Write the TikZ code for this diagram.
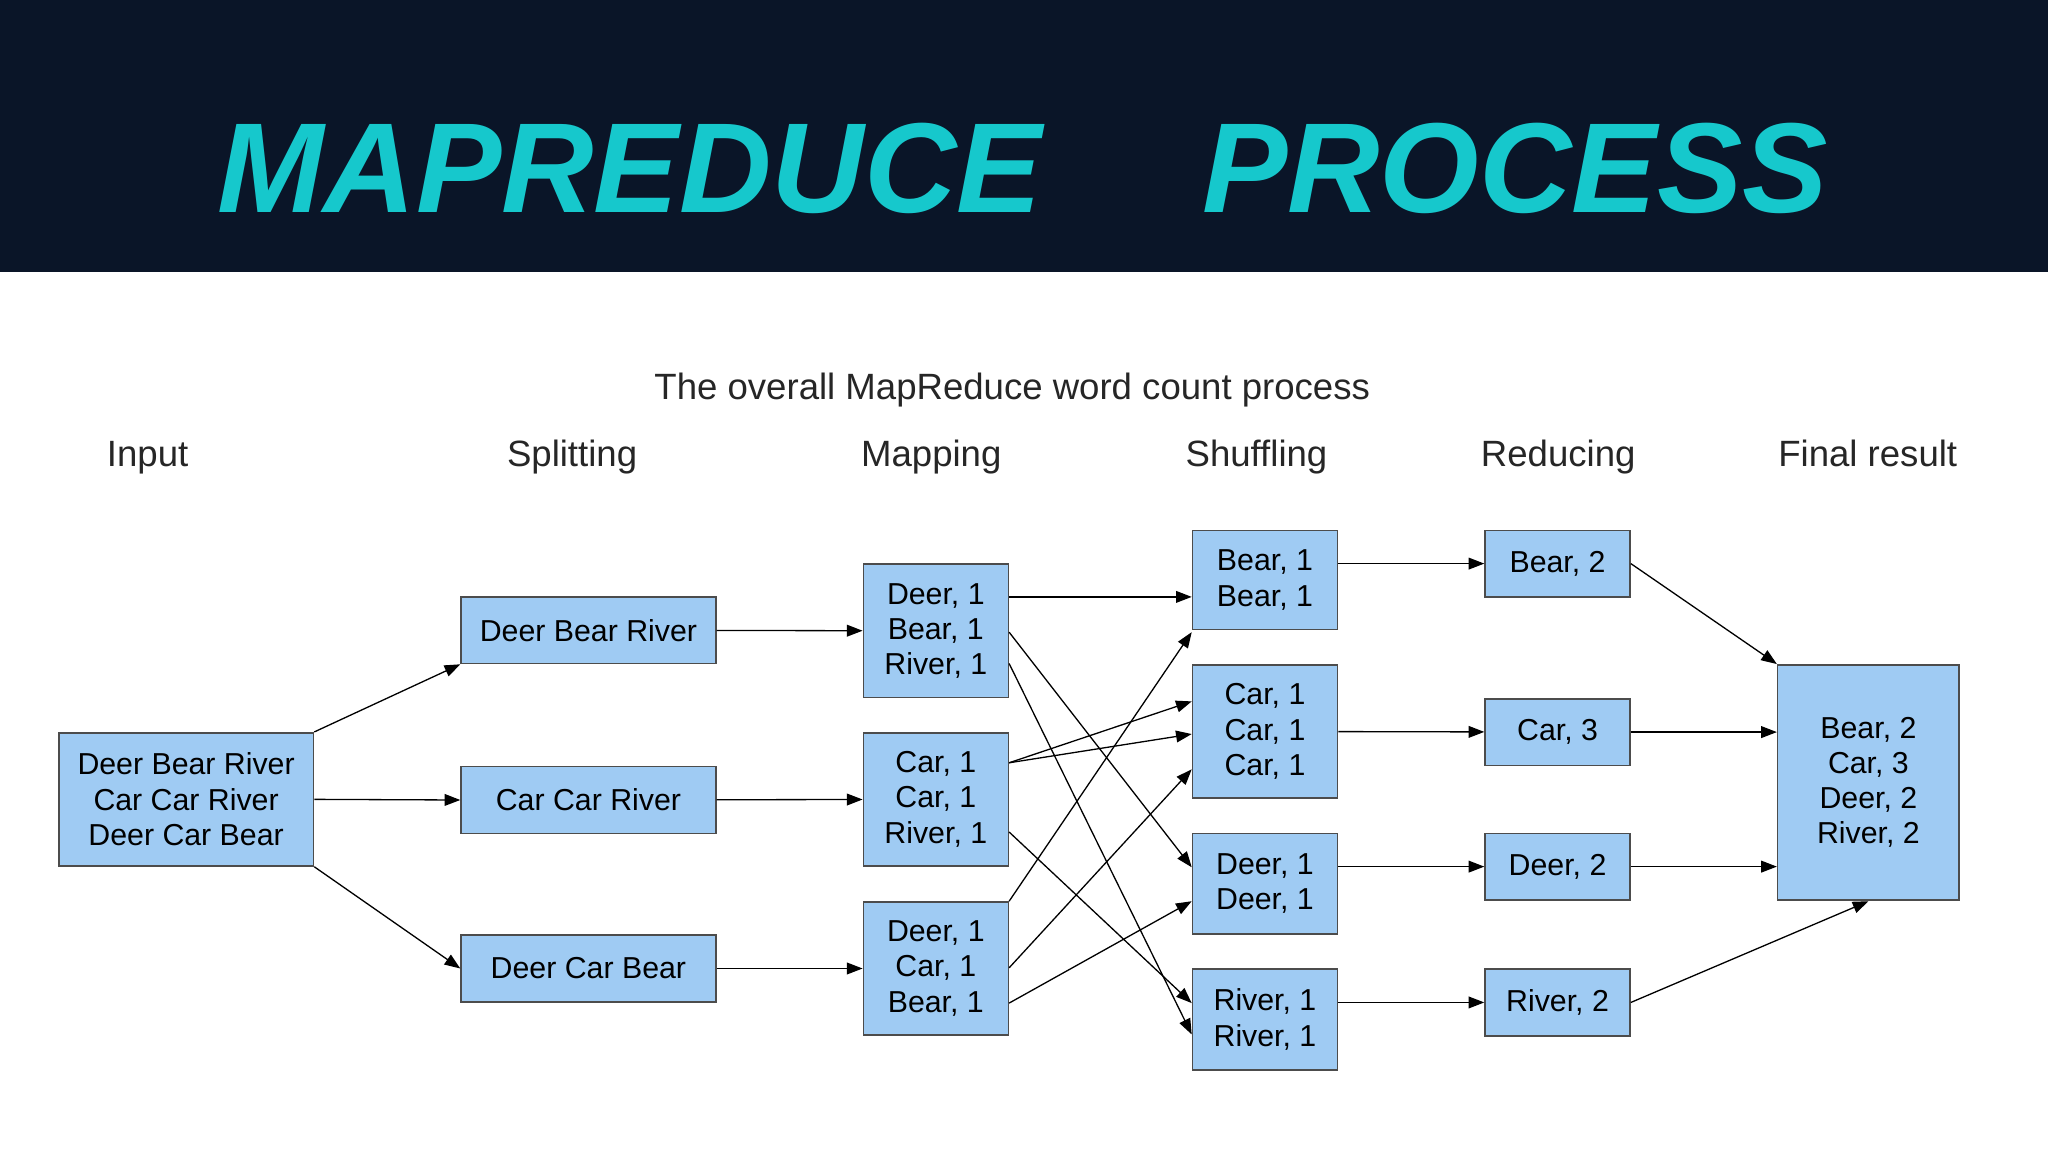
\documentclass[tikz,border=0pt]{standalone}
\usepackage{fontspec}
\setmainfont{Liberation Sans}
\usetikzlibrary{arrows.meta}
\definecolor{navy}{HTML}{0A1528}
\definecolor{ttl}{HTML}{16C8CC}
\definecolor{box}{HTML}{9FCBF3}
\begin{document}
\begin{tikzpicture}[x=0.5pt,y=-0.5pt,
  bx/.style={draw=black!70,fill=box,line width=0.6pt,align=center,inner sep=0pt,
    font=\fontsize{11.6}{13.5}\selectfont},
  hd/.style={font=\fontsize{14}{16}\selectfont,text=black!85,anchor=base},
  tt/.style={text=ttl,font=\fontsize{49}{52}\selectfont\bfseries\itshape,anchor=base},
  ar/.style={-{Triangle[length=6pt,width=4.5pt]},line width=0.5pt}]
\useasboundingbox (0,0) rectangle (1568,882);
\fill[white] (0,0) rectangle (1568,882);
\fill[navy] (0,0) rectangle (1568,208);
\node[tt] (t1) at (482,163) {MAPREDUCE};
\node[tt] (t2) at (1160,163) {PROCESS};
\node[hd] (sub) at (775,306) {The overall MapReduce word count process};
\node[hd] (h1) at (113,357) {Input};
\node[hd] (h2) at (438,357) {Splitting};
\node[hd] (h3) at (713,357) {Mapping};
\node[hd] (h4) at (962,357) {Shuffling};
\node[hd] (h5) at (1193,357) {Reducing};
\node[hd] (h6) at (1430,357) {Final result};
\node[bx,minimum width=97.5pt,minimum height=51pt] (in) at (142.5,612) {Deer Bear River\\Car Car River\\Deer Car Bear};
\foreach \n/\y/\t in {s1/482.5/Deer Bear River,s2/612.5/Car Car River,s3/741.5/Deer Car Bear}
  \node[bx,minimum width=97.5pt,minimum height=25.5pt] (\n) at (450.5,\y) {\t};
\node[bx,minimum width=55.5pt,minimum height=51pt] (m1) at (716.5,483) {Deer, 1\\Bear, 1\\River, 1};
\node[bx,minimum width=55.5pt,minimum height=51pt] (m2) at (716.5,612) {Car, 1\\Car, 1\\River, 1};
\node[bx,minimum width=55.5pt,minimum height=51pt] (m3) at (716.5,741.5) {Deer, 1\\Car, 1\\Bear, 1};
\node[bx,minimum width=55.5pt,minimum height=38pt] (u1) at (968.5,444) {Bear, 1\\Bear, 1};
\node[bx,minimum width=55.5pt,minimum height=51pt] (u2) at (968.5,560) {Car, 1\\Car, 1\\Car, 1};
\node[bx,minimum width=55.5pt,minimum height=38.5pt] (u3) at (968.5,676.5) {Deer, 1\\Deer, 1};
\node[bx,minimum width=55.5pt,minimum height=38.5pt] (u4) at (968.5,780.5) {River, 1\\River, 1};
\foreach \n/\y/\t in {r1/431.5/{Bear, 2},r2/560.5/{Car, 3},r3/663.5/{Deer, 2},r4/767.5/{River, 2}}
  \node[bx,minimum width=55.5pt,minimum height=25.5pt] (\n) at (1192.5,\y) {\t};
\node[bx,minimum width=69.5pt,minimum height=90pt] (f) at (1430.5,599) {Bear, 2\\Car, 3\\Deer, 2\\River, 2};
% input -> split
\draw[ar] (in.north east) -- (s1.south west);
\draw[ar] (in.east) -- (s2.west);
\draw[ar] (in.south east) -- (s3.west);
\draw[ar] (s1) -- (m1);
\draw[ar] (s2) -- (m2);
\draw[ar] (s3) -- (m3);
% map -> shuffle
\draw[ar] (m1.east |- 0,457) -- (u1.west |- 0,457);
\draw[ar] (m1.east |- 0,484) -- (u3.west |- 0,664);
\draw[ar] (m1.east |- 0,508) -- (u4.west |- 0,792);
\draw[ar] (m2.east |- 0,584) -- (u2.west |- 0,537);
\draw[ar] (m2.east |- 0,584) -- (u2.west |- 0,562);
\draw[ar] (m2.east |- 0,637) -- (u4.west |- 0,768);
\draw[ar] (m3.east |- 0,690) -- (u1.west |- 0,484);
\draw[ar] (m3.east |- 0,741) -- (u2.west |- 0,589);
\draw[ar] (m3.east |- 0,768) -- (u3.west |- 0,690);
% shuffle -> reduce
\draw[ar] (u1.east |- r1) -- (r1);
\draw[ar] (u2) -- (r2);
\draw[ar] (u3.east |- r3) -- (r3);
\draw[ar] (u4.east |- r4) -- (r4);
% reduce -> final
\draw[ar] (r1.east) -- (f.north west);
\draw[ar] (r2) -- (f.west |- r2);
\draw[ar] (r3) -- (f.west |- r3);
\draw[ar] (r4.east) -- (f.south |- 0,690);
\end{tikzpicture}
\end{document}
